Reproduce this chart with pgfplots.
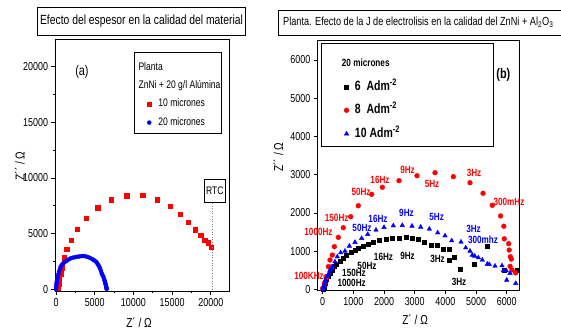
\documentclass[border=0pt]{standalone}
\usepackage{fontspec}
\setmainfont{Liberation Sans}[FakeStretch=0.78]
\usepackage{pgfplots}
\pgfplotsset{compat=1.18}
\newcommand{\fs}[1]{\fontsize{#1}{#1}\selectfont}
\pgfplotsset{
  common/.style={
    scale only axis, anchor=south west,
    tick align=outside, tick pos=left,
    scaled ticks=false,
    /pgf/number format/1000 sep={},
    /pgf/number format/assume math mode=true,
    tick label style={font=\fs{11.5}},
    label style={font=\fs{13}},
    axis line style={line width=0.8bp},
    every tick/.style={black, line width=0.7bp},
    major tick length=3.5bp, minor tick length=2bp,
    clip mode=individual,
  }
}
\begin{document}
\begin{tikzpicture}[x=1bp,y=1bp]
\path[use as bounding box] (0,0) rectangle (561bp,329bp);
% titles
\draw[line width=0.8bp] (37bp,294bp) rectangle (245bp,321.7bp);
\node[font=\fs{13.3}, inner sep=0] at (141.5bp,307.5bp) {Efecto del espesor en la calidad del material};
\draw[line width=0.8bp] (278bp,294bp) rectangle (563bp,319bp);
\node[anchor=west, font=\fs{11.8}, inner sep=0] at (283bp,306.5bp) {Planta. Efecto de la J de electrolisis en la calidad del ZnNi + Al\textsubscript{2}O\textsubscript{3}};

% ---------- left panel ----------
\begin{axis}[common, at={(55bp,38bp)}, width=174bp, height=252bp,
  xmin=-129, xmax=22350, ymin=-153, ymax=22480,
  xtick={0,5000,10000,15000,20000}, ytick={0,5000,10000,15000,20000},
  minor tick num=1,
  xlabel={Z´ / Ω}, ylabel={Z´´ / Ω},
  xlabel style={at={(axis description cs:0.483,-0.127)}, anchor=center},
  ylabel style={at={(axis description cs:-0.201,0.496)}, anchor=center},
  legend style={draw=none, fill=none, at={(axis description cs:0.528,0.767)}, anchor=north west,
    font=\fs{11}, inner sep=0pt, row sep=5.9bp, column sep=6bp,
    nodes={inner sep=1bp, text height=8bp, text depth=2.5bp}},
  legend cell align=left,
  legend image code/.code={\draw[#1] plot coordinates {(0bp,0bp)};},
]
\addplot[only marks, mark=square*, mark size=2.2bp, red, mark options={draw=red, fill=red}] coordinates {
(230,80)(330,450)(450,900)(600,1400)(800,1950)(1034,2840)(1378,3593)(1938,4430)(2756,5400)
(3876,6377)(5383,7340)(7106,8050)(9134,8420)(11202,8443)(13088,8060)(14729,7470)(16021,6736)
(17096,6040)(17997,5350)(18695,4850)(19212,4400)(19677,4200)(20080,3800)};
\addlegendentry{10 micrones}
\addplot[only marks, mark=*, mark size=2bp, blue, mark options={draw=blue, fill=blue}] coordinates {
(0,0)(20,150)(40,350)(70,550)(110,750)(160,950)(230,1150)(300,1350)(390,1580)(490,1800)
(600,2030)(760,2200)(950,2340)(1150,2460)(1380,2570)(1630,2680)(1900,2780)(2170,2840)
(2450,2880)(2730,2920)(3020,2950)(3320,2980)(3620,2990)(3900,2940)(4180,2880)(4460,2790)
(4740,2690)(4960,2590)(5170,2480)(5330,2340)(5470,2180)(5590,2030)(5690,1880)(5800,1660)
(5900,1440)(6000,1280)(6110,1130)(6200,950)(6270,800)(6330,680)(6380,540)(6420,400)
(6460,300)(6500,190)(6530,100)(6550,30)};
\addlegendentry{20 micrones}
\draw[line width=0.8bp] (axis description cs:0.454,0.948) rectangle (axis description cs:0.954,0.627);
\node[anchor=west, font=\fs{11}, inner sep=0] at (axis description cs:0.479,0.890) {Planta};
\node[anchor=west, font=\fs{11}, inner sep=0] at (axis description cs:0.479,0.816) {ZnNi + 20 g/l Alúmina};
\node[font=\fs{14}] at (axis description cs:0.155,0.869) {(a)};
\draw[dotted, gray, line width=0.6bp] (axis cs:20150,7750) -- (axis cs:20150,-153);
\node[draw, line width=0.8bp, fill=white, font=\fs{11}, minimum width=21.7bp, minimum height=23.4bp, inner sep=0]
  at (axis description cs:0.919,0.397) {RTC};
\end{axis}

% ---------- right panel ----------
\begin{axis}[common, at={(317.3bp,39bp)}, width=202bp, height=249.3bp,
  xmin=-176, xmax=6410, ymin=-18, ymax=6504,
  xtick={0,1000,...,6000}, ytick={0,1000,...,6000},
  xlabel={Z´ / Ω}, ylabel={Z´´ / Ω},
  xlabel style={at={(axis description cs:0.484,-0.12)}, anchor=center},
  ylabel style={at={(axis description cs:-0.193,0.533)}, anchor=center},
  legend style={draw=none, fill=none, at={(axis description cs:0.132,0.846)}, anchor=north west,
    font=\bfseries\fs{13.5}, inner sep=0pt, row sep=8.5bp, column sep=5bp,
    nodes={inner sep=1bp, text height=10bp, text depth=3bp}},
  legend cell align=left,
  legend image code/.code={\draw[#1] plot coordinates {(0bp,0bp)};},
]
\addplot[only marks, mark=square*, mark size=2bp, black] coordinates {
(0,0)(42,68)(75,157)(130,262)(184,330)(238,419)(314,505)(380,592)(456,662)(564,723)(672,811)
(782,897)(913,958)(1053,1028)(1161,1073)(1324,1133)(1487,1185)(1650,1230)(1836,1272)(2064,1308)
(2282,1334)(2497,1350)(2716,1361)(2934,1334)(3117,1308)(3303,1245)(3531,1159)(3717,1159)
(3932,1046)(4118,1046)(4128,767)(4281,853)(4467,523)(4933,662)(5367,1115)(5912,505)(6346,487)};
\addlegendentry{6\ \ Adm\textsuperscript{-2}}
\addplot[only marks, mark=*, mark size=2.4bp, red, mark options={draw=red, fill=red}] coordinates {
(0,26)(50,150)(108,330)(150,314)(184,592)(238,767)(293,592)(314,897)(380,1115)(510,1360)(672,1612)
(913,1900)(1161,2187)(1597,2485)(1944,2669)(2488,2842)(3075,2972)(3662,3051)(4259,2946)
(4803,2789)(5227,2512)(5530,2198)(5800,1920)(5905,1650)(5920,1320)(6064,1195)(6080,1028)
(6120,853)(6150,790)(6110,600)(6172,505)(6290,430)(6440,720)};
\addlegendentry{8\ \ Adm\textsuperscript{-2}}
\addplot[only marks, mark=triangle*, mark size=2.6bp, blue, mark options={draw=blue, fill=blue}] coordinates {
(0,0)(20,40)(42,113)(60,80)(85,243)(100,180)(150,348)(200,420)(238,505)(280,540)(326,592)(401,723)
(476,853)(587,958)(727,1002)(868,1133)(1053,1230)(1270,1334)(1467,1439)(1738,1552)(1999,1622)
(2302,1664)(2595,1674)(2912,1656)(3195,1630)(3476,1578)(3750,1481)(3988,1402)(4206,1272)
(4509,1238)(4663,1088)(4803,1002)(4878,897)(4956,871)(5074,827)(5204,767)(5367,662)(5432,654)
(5618,610)(5846,618)(5889,487)(5986,487)(5999,243)(6107,419)(6293,157)};
\addlegendentry{10 Adm\textsuperscript{-2}}
\draw[line width=0.8bp] (axis description cs:0.022,0.9896) rectangle (axis description cs:0.871,0.575);
\node[anchor=west, font=\bfseries\fs{10.5}, inner sep=0] at (axis description cs:0.121,0.9105) {20 micrones};
\node[font=\bfseries\fs{14}] at (axis description cs:0.921,0.862) {(b)};
% frequency labels
\begin{scope}[every node/.style={font=\bfseries\fs{10.5}, inner sep=0}]
\node[red] at (axis cs:-447,348) {100KHz};
\node[red] at (axis cs:-137,1500) {1000Hz};
\node[red] at (axis cs:456,1857) {150Hz};
\node[red] at (axis cs:1250,2554) {50Hz};
\node[red] at (axis cs:1868,2860) {16Hz};
\node[red] at (axis cs:2765,3121) {9Hz};
\node[red] at (axis cs:3564,2747) {5Hz};
\node[red] at (axis cs:4933,3035) {3Hz};
\node[red] at (axis cs:6074,2292) {300mHz};
\node[blue] at (axis cs:1281,1596) {50Hz};
\node[blue] at (axis cs:1803,1839) {16Hz};
\node[blue] at (axis cs:2732,1988) {9Hz};
\node[blue] at (axis cs:3717,1900) {5Hz};
\node[blue] at (axis cs:4917,1570) {3Hz};
\node[blue] at (axis cs:5227,1308) {300mhz};
\node[black] at (axis cs:1021,435) {150Hz};
\node[black] at (axis cs:945,157) {1000Hz};
\node[black] at (axis cs:1445,618) {50Hz};
\node[black] at (axis cs:1982,853) {16Hz};
\node[black] at (axis cs:2765,880) {9Hz};
\node[black] at (axis cs:3743,793) {3Hz};
\node[black] at (axis cs:4444,200) {3Hz};
\end{scope}
\end{axis}
\end{tikzpicture}
\end{document}
